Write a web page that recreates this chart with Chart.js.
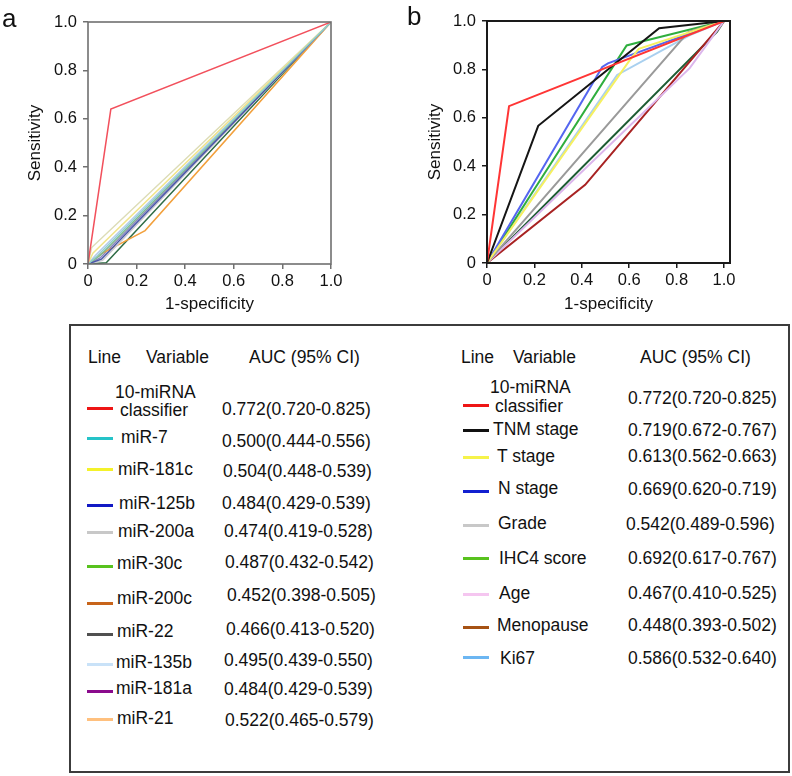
<!DOCTYPE html>
<html>
<head>
<meta charset="utf-8">
<script src="https://cdn.jsdelivr.net/npm/chart.js@4.4.1/dist/chart.umd.min.js"></script>
<style>
  html, body { margin:0; padding:0; background:#fff; }
  body { width:792px; height:776px; position:relative; overflow:hidden;
         font-family:"Liberation Sans", Arial, Helvetica, sans-serif; color:#111; }
  canvas { position:absolute; top:0; }
  #ca { left:0; }
  #cb { left:400px; }
  .lbl { position:absolute; font-size:26px; line-height:30px; }
  #box { position:absolute; left:69px; top:324px; width:721px; height:449px;
         border:2px solid #3c3c3c; box-sizing:border-box; }
  .t { position:absolute; font-size:17.5px; line-height:20px; white-space:nowrap; }
  .sw { position:absolute; width:26px; height:3px; }
</style>
</head>
<body>
<canvas id="ca" width="400" height="316"></canvas>
<canvas id="cb" width="392" height="316"></canvas>
<div class="lbl" style="left:2px;top:3px;">a</div>
<div class="lbl" style="left:407px;top:1px;">b</div>
<div id="box"></div>
<div id="keys"></div>
<script>
// ---------------- Data ----------------
const tickValues = [0, 0.2, 0.4, 0.6, 0.8, 1.0];

// Panel a : ROC curves [1-specificity, sensitivity]
const a_classifier = [[0,0],[0.094,0.64],[1,1]];
const a_mir7      = [[0,0],[0.04,0.035],[1,1]];
const a_mir181c   = [[0,0],[0.02,0.045],[1,1]];
const a_mir125b   = [[0,0],[0.055,0.02],[1,1]];
const a_mir200a   = [[0,0],[0.06,0.015],[1,1]];
const a_mir30c    = [[0,0],[0.05,0.035],[1,1]];
const a_mir200c   = [[0,0],[0.05,0.04],[0.235,0.138],[1,1]];
const a_mir22     = [[0,0],[0.075,0.005],[1,1]];
const a_mir135b   = [[0,0],[0.03,0.035],[1,1]];
const a_mir181a   = [[0,0],[0.05,0.025],[1,1]];
const a_mir21     = [[0,0],[0.015,0.068],[1,1]];

const a_names = ['10-miRNA classifier','miR-7','miR-181c','miR-125b','miR-200a','miR-30c','miR-200c','miR-22','miR-135b','miR-181a','miR-21'];
const a_auc   = ['0.772(0.720-0.825)','0.500(0.444-0.556)','0.504(0.448-0.539)','0.484(0.429-0.539)','0.474(0.419-0.528)',
                 '0.487(0.432-0.542)','0.452(0.398-0.505)','0.466(0.413-0.520)','0.495(0.439-0.550)','0.484(0.429-0.539)','0.522(0.465-0.579)'];
const a_series = [a_classifier,a_mir7,a_mir181c,a_mir125b,a_mir200a,a_mir30c,a_mir200c,a_mir22,a_mir135b,a_mir181a,a_mir21];

// Panel b
const b_classifier = [[0,0],[0.093,0.648],[1,1]];
const b_tnm        = [[0,0],[0.216,0.567],[0.726,0.97],[1,1]];
const b_tstage     = [[0,0],[0.6,0.835],[0.64,0.885],[1,1]];
const b_nstage     = [[0,0],[0.486,0.81],[0.51,0.825],[1,1]];
const b_grade      = [[0,0],[0.85,0.955],[1,1]];
const b_ihc4       = [[0,0],[0.589,0.899],[0.645,0.913],[1,1]];
const b_age        = [[0,0],[0.855,0.805],[1,1]];
const b_menopause  = [[0,0],[0.414,0.323],[1,1]];
const b_ki67       = [[0,0],[0.549,0.777],[0.856,0.942],[1,1]];
const b_extra      = [[0,0],[0.97,0.955],[1,1]];

const b_names = ['10-miRNA classifier','TNM stage','T stage','N stage','Grade','IHC4 score','Age','Menopause','Ki67'];
const b_auc   = ['0.772(0.720-0.825)','0.719(0.672-0.767)','0.613(0.562-0.663)','0.669(0.620-0.719)','0.542(0.489-0.596)',
                 '0.692(0.617-0.767)','0.467(0.410-0.525)','0.448(0.393-0.502)','0.586(0.532-0.640)'];
const b_series = [b_classifier,b_tnm,b_tstage,b_nstage,b_grade,b_ihc4,b_age,b_menopause,b_ki67,b_extra];

// ---------------- Styles ----------------
const a_plotColors = ['#f2505c','#8fcfd0','#f0e48a','#4857a8','#c9c9cf','#7fb98a','#f2a03c','#2f6c45','#b4cbea','#8a86bd','#dcdcb6'];
const a_keyColors  = ['#ee1515','#25c3c8','#f4f22a','#1219c4','#c8c8c8','#58c21e','#c8641a','#505050','#c9e2f8','#8a0a8c','#ffc07e'];
const b_plotColors = ['#ff3535','#151515','#f6f060','#5566f0','#9a9a9a','#2fae3e','#dcb6ec','#a82222','#a9d0ef','#1d5c33'];
const b_keyColors  = ['#ee1515','#111111','#f6f34a','#1220d0','#c8c8c8','#58c21e','#f5c6f0','#a65214','#6cb6f2'];

const FONT = '"Liberation Sans", Arial, Helvetica, sans-serif';

const framePlugin = {
  id: 'frame',
  afterDatasetsDraw(chart, args, opts) {
    const {ctx, chartArea: a} = chart;
    ctx.save();
    ctx.strokeStyle = opts.color; ctx.lineWidth = opts.width;
    ctx.strokeRect(a.left, a.top, a.right - a.left, a.bottom - a.top);
    ctx.restore();
  }
};

function axisOpts(isX, frameColor, xmax, fitSize, titleText) {
  return {
    type: 'linear', min: 0, max: isX ? xmax : 1,
    afterBuildTicks: s => { s.ticks = tickValues.map(v => ({value: v})); },
    afterFit: s => { if (isX) s.height = fitSize; else s.width = fitSize; },
    grid: { display: true, drawOnChartArea: false, drawTicks: true, tickLength: 5, color: frameColor, lineWidth: 1.5 },
    border: { display: false },
    ticks: { color: '#111', font: { family: FONT, size: 16.5 }, padding: isX ? 3 : 6, maxRotation: 0, autoSkip: false,
             callback: v => v === 0 ? '0' : Number(v).toFixed(1) },
    title: { display: true, text: titleText, color: '#111', font: { family: FONT, size: 17 },
             padding: isX ? {top: 0, bottom: 1} : {top: 25, bottom: 0} }
  };
}

function makeChart(id, series, colors, names, frameColor, frameWidth, lineWidth, xmax, padTop, padRight, yW, xH) {
  const datasets = series.map((pts, i) => ({
    label: names[i] || '',
    data: pts.map(p => ({x: p[0], y: p[1]})),
    borderColor: colors[i], backgroundColor: colors[i],
    borderWidth: lineWidth, pointRadius: 0, tension: 0, fill: false
  }));
  return new Chart(document.getElementById(id), {
    type: 'line',
    data: { datasets },
    options: {
      responsive: false, animation: false, parsing: true,
      layout: { padding: { top: padTop, right: padRight, left: 0, bottom: 0 } },
      plugins: { legend: { display: false }, tooltip: { enabled: false },
                 frame: { color: frameColor, width: frameWidth } },
      scales: {
        x: axisOpts(true, frameColor, xmax, xH, '1-specificity'),
        y: axisOpts(false, frameColor, xmax, yW, 'Sensitivity')
      }
    },
    plugins: [framePlugin]
  });
}

makeChart('ca', a_series, a_plotColors, a_names, '#707070', 1.6, 1.5, 1.0, 22, 69, 88, 52);
makeChart('cb', b_series, b_plotColors, b_names.concat(['']), '#1a1a1a', 2, 2, 1.025, 21, 62, 87, 53);

// ---------------- Key tables (HTML text) ----------------
const keys = document.getElementById('keys');
function txt(s, x, yc) {
  const d = document.createElement('div');
  d.className = 't'; d.textContent = s;
  d.style.left = x + 'px'; d.style.top = (yc - 10) + 'px';
  keys.appendChild(d);
}
function sw(color, x, yc) {
  const d = document.createElement('div');
  d.className = 'sw'; d.style.background = color;
  d.style.left = x + 'px'; d.style.top = (yc - 1.5) + 'px';
  keys.appendChild(d);
}
// left table
txt('Line', 88, 357); txt('Variable', 146, 357); txt('AUC (95% CI)', 249, 357);
const aRowY   = [408, 438, 469, 505, 532, 566, 603, 634, 664, 691, 719];
const aTextY  = [410, 437, 469, 503, 531, 563, 598, 631, 662, 688, 718];
const aAucY   = [409, 441, 471, 503, 531, 562, 595, 629, 660, 689, 720];
const aTextX  = [120, 121, 118, 119, 118, 117, 117, 117, 116, 116, 117];
const aAucX   = [222, 222, 223, 222, 224, 225, 227, 226, 224, 224, 225];
for (let i = 0; i < a_names.length; i++) {
  sw(a_keyColors[i], 87, aRowY[i]);
  if (i === 0) { txt('10-miRNA', 115, 392); txt('classifier', aTextX[i], aTextY[i]); }
  else txt(a_names[i], aTextX[i], aTextY[i]);
  txt(a_auc[i], aAucX[i], aAucY[i]);
}
// right table
txt('Line', 461, 357); txt('Variable', 513, 357); txt('AUC (95% CI)', 640, 357);
const bRowY  = [405, 430, 457, 491, 525, 558, 594, 627, 657];
const bTextY = [406, 429, 456, 488, 523, 558, 593, 625, 658];
const bAucY  = [398, 430, 456, 489, 524, 558, 593, 625, 658];
const bTextX = [495, 493, 497, 498, 498, 499, 499, 497, 500];
const bAucX  = [628, 628, 628, 628, 626, 628, 628, 628, 628];
for (let i = 0; i < b_names.length; i++) {
  sw(b_keyColors[i], 463, bRowY[i]);
  if (i === 0) { txt('10-miRNA', 490, 387); txt('classifier', bTextX[i], bTextY[i]); }
  else txt(b_names[i], bTextX[i], bTextY[i]);
  txt(b_auc[i], bAucX[i], bAucY[i]);
}
</script>
</body>
</html>
